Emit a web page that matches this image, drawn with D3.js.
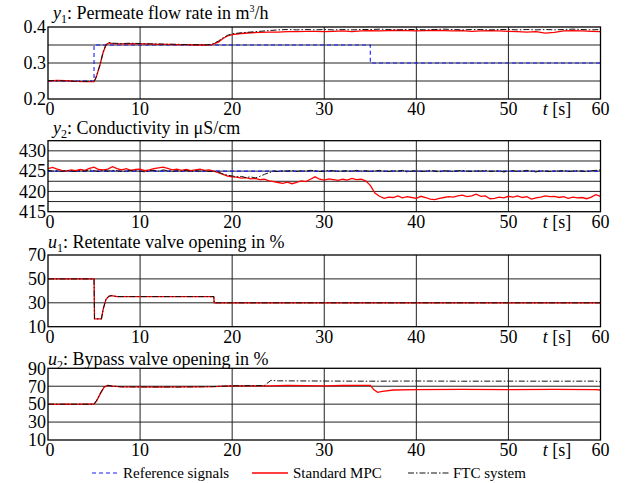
<!DOCTYPE html>
<html>
<head>
<meta charset="utf-8">
<script src="https://cdn.jsdelivr.net/npm/d3@7"></script>
<style>
  body { margin: 0; background: #fff; }
  svg { display: block; }
  svg text { font-family: "Liberation Serif", "Times New Roman", "DejaVu Serif", serif; }
</style>
</head>
<body>
<div id="chart"></div>
<script>
// ---- data ----
const xTicks = [0, 10, 20, 30, 40, 50, 60];

// y1: permeate flow rate, [t, value]
const y1Ref = [[0, 0.25], [5, 0.25], [5, 0.35], [35, 0.35], [35, 0.30], [60, 0.30]];
const y1Mpc = [[0, 0.250], [1, 0.252], [2, 0.251], [3, 0.249], [4, 0.248], [5, 0.248], [5.2, 0.258],
  [5.6, 0.290], [6.0, 0.330], [6.3, 0.350], [6.6, 0.356], [7, 0.354], [8, 0.353], [9, 0.354],
  [10, 0.353], [11, 0.353], [12, 0.352], [13, 0.352], [14, 0.351], [15, 0.351], [16, 0.350],
  [17, 0.350], [17.8, 0.351], [18.5, 0.358], [19, 0.368], [19.5, 0.375], [20, 0.379], [21, 0.382],
  [22, 0.384], [23, 0.385], [24, 0.386], [25, 0.386], [26, 0.387], [27, 0.387], [28, 0.388],
  [29, 0.388], [30, 0.387], [31, 0.388], [32, 0.389], [33, 0.387], [34, 0.389], [35, 0.390],
  [36, 0.389], [37, 0.390], [38, 0.391], [39, 0.390], [40, 0.389], [41, 0.390], [42, 0.391],
  [43, 0.390], [44, 0.389], [45, 0.390], [46, 0.388], [47, 0.389], [48, 0.390], [49, 0.389],
  [50, 0.388], [51, 0.387], [52, 0.386], [53, 0.387], [54, 0.383], [55, 0.385], [56, 0.389],
  [57, 0.390], [58, 0.389], [59, 0.388], [60, 0.387]];
const y1Ftc = [[0, 0.251], [1, 0.251], [2, 0.250], [3, 0.249], [4, 0.249], [5, 0.249], [5.2, 0.259],
  [5.6, 0.292], [6.0, 0.332], [6.3, 0.351], [6.6, 0.357], [7, 0.355], [8, 0.354], [9, 0.355],
  [10, 0.354], [11, 0.353], [12, 0.353], [13, 0.352], [14, 0.352], [15, 0.351], [16, 0.351],
  [17, 0.350], [17.8, 0.352], [18.5, 0.361], [19, 0.370], [19.5, 0.377], [20, 0.381], [21, 0.384],
  [22, 0.386], [23, 0.388], [24, 0.390], [25, 0.392], [26, 0.393], [27, 0.392], [28, 0.393],
  [29, 0.392], [30, 0.393], [31, 0.392], [32, 0.393], [33, 0.392], [34, 0.393], [35, 0.393],
  [36, 0.394], [37, 0.393], [38, 0.392], [39, 0.393], [40, 0.393], [41, 0.392], [42, 0.393],
  [43, 0.394], [44, 0.393], [45, 0.392], [46, 0.393], [47, 0.393], [48, 0.392], [49, 0.393],
  [50, 0.393], [51, 0.392], [52, 0.393], [53, 0.392], [54, 0.393], [55, 0.392], [56, 0.393],
  [57, 0.394], [58, 0.393], [59, 0.392], [60, 0.393]];

// y2: conductivity, sampled every 0.5 s from t = 0 to 60
const y2Times = d3.range(0, 60.5, 0.5);
const y2Ref = [[0, 425], [60, 425]];
const y2Mpc = [425.6, 425.9, 425.5, 425.2, 425.0, 425.3, 425.1, 425.4, 425.2, 425.7,
  426.0, 425.4, 425.3, 425.5, 426.1, 425.6, 425.3, 425.6, 425.2, 425.4,
  425.5, 425.1, 425.3, 425.6, 425.8, 426.0, 425.7, 425.3, 425.5, 425.2,
  425.4, 425.1, 425.3, 425.5, 425.2, 425.3, 425.0, 424.6, 424.2, 423.8,
  423.6, 423.5, 423.3, 423.4, 423.1, 423.2, 422.9, 423.0, 422.6, 422.4,
  422.2, 422.0, 422.3, 421.9, 422.2, 422.6, 422.4, 423.0, 423.6, 423.0,
  422.8, 423.1, 422.9, 422.7, 423.0, 422.8, 423.2, 422.9, 423.0, 422.6,
  421.5, 419.6, 418.8, 418.3, 418.6, 418.5, 418.9, 418.4, 418.7, 418.5,
  418.3, 418.8, 418.5, 418.1, 418.0, 418.3, 418.5, 418.7, 418.6, 418.9,
  419.1, 418.7, 418.9, 419.3, 418.8, 418.9, 418.2, 418.3, 418.6, 418.4,
  418.8, 418.6, 418.9, 418.5, 418.7, 418.1, 418.4, 418.6, 418.9, 418.7,
  418.8, 418.5, 418.7, 418.3, 418.6, 418.4, 418.5, 418.2, 418.6, 419.2,
  418.8];
const y2Ftc = [425.2, 425.0, 425.1, 424.9, 425.2, 425.0, 424.9, 425.1, 425.0, 425.3,
  425.1, 424.9, 425.2, 425.0, 425.2, 425.1, 424.9, 425.0, 425.2, 425.1,
  425.0, 424.8, 425.1, 425.2, 425.0, 425.3, 425.1, 424.9, 425.1, 425.0,
  425.2, 424.9, 425.1, 425.0, 425.1, 424.9, 425.0, 424.8, 424.3, 424.0,
  423.8, 423.6, 423.7, 423.4, 423.6, 423.3, 423.7, 424.2, 424.6, 425.0,
  424.9, 425.1, 425.0, 425.2, 424.9, 425.1, 425.0, 425.2, 425.1, 424.9,
  425.0, 425.2, 425.1, 424.9, 425.0, 425.1, 424.9, 425.2, 425.0, 425.1,
  424.9, 425.0, 425.2, 425.0, 424.9, 425.1, 425.0, 425.2, 424.8, 425.0,
  425.1, 424.9, 425.0, 425.2, 425.0, 424.8, 425.1, 425.0, 424.9, 425.1,
  425.2, 425.0, 424.9, 425.1, 425.0, 425.2, 424.9, 425.0, 425.1, 424.8,
  425.0, 425.1, 424.9, 425.0, 425.2, 425.0, 424.8, 425.1, 425.0, 424.9,
  425.1, 425.0, 425.2, 424.9, 425.0, 425.1, 425.0, 424.9, 425.1, 425.2,
  425.3];

// u1: retentate valve opening
const u1Mpc = [[0, 50], [5, 50], [5.05, 16.5], [5.8, 16.5], [6.0, 25], [6.3, 33], [6.6, 35.5],
  [6.9, 36], [7.5, 35.2], [18, 35.2], [18.05, 30], [60, 30]];
const u1Ftc = [[0, 50], [5, 50], [5.05, 16.5], [5.8, 16.5], [6.0, 25], [6.3, 33], [6.6, 35.5],
  [6.9, 36], [7.5, 35.2], [18, 35.2], [18.05, 30], [60, 30]];

// u2: bypass valve opening
const u2Mpc = [[0, 50], [1, 49.8], [2, 50], [3, 49.7], [4, 50], [5, 50], [5.3, 54], [5.7, 62],
  [6.1, 69], [6.5, 71], [7, 70], [8, 69.2], [10, 69.3], [12, 69], [14, 69.2], [16, 69.3],
  [18, 69.5], [20, 70.3], [22, 70.5], [24, 70.5], [26, 71], [28, 70.6], [30, 70.5], [32, 70.8],
  [34, 71], [35, 71], [35.4, 66], [35.8, 63.2], [36.3, 64.2], [37.5, 65.8], [40, 66.2],
  [45, 66.5], [50, 66.3], [55, 66.5], [59.5, 66.3], [60, 65.8]];
const u2Ftc = [[0, 50], [1, 50], [2, 49.8], [3, 50], [4, 49.9], [5, 50], [5.3, 54.5], [5.7, 62.5],
  [6.1, 69.5], [6.5, 71], [7, 70], [8, 69.4], [10, 69.2], [12, 69.3], [14, 69.1], [16, 69.4],
  [18, 69.6], [20, 70.5], [22, 70.6], [23.5, 70.8], [24.2, 76.5], [25, 76], [30, 75.8],
  [35, 75.6], [40, 75.8], [45, 75.6], [50, 75.7], [55, 75.6], [59.5, 75.7], [60, 74.8]];

// ---- layout ----
const width = 625, height = 483;
const x = d3.scaleLinear().domain([0, 60]).range([48, 600.5]);

const panels = [
  { top: 27, bottom: 99, domain: [0.2, 0.4], grid: [0.25, 0.3, 0.35], labels: [0.2, 0.3, 0.4],
    fmt: d3.format('.1f'), sym: 'y', sub: '1', title: ': Permeate flow rate in m', sup: '3', tail: '/h',
    titleX: 53, titleY: 19,
    series: { ref: y1Ref, mpc: y1Mpc, ftc: y1Ftc } },
  { top: 140.7, bottom: 211.7, domain: [415, 432.5], grid: [417.5, 420, 422.5, 425, 427.5, 430],
    labels: [415, 420, 425, 430], fmt: d3.format('d'), sym: 'y', sub: '2',
    title: ': Conductivity in \u03bcS/cm', titleX: 53, titleY: 134,
    series: { ref: y2Ref, mpc: y2Times.map((t, i) => [t, y2Mpc[i]]), ftc: y2Times.map((t, i) => [t, y2Ftc[i]]) } },
  { top: 255, bottom: 326.7, domain: [10, 70], grid: [30, 50], labels: [10, 30, 50, 70],
    fmt: d3.format('d'), sym: 'u', sub: '1', title: ': Retentate valve opening in %',
    titleX: 48, titleY: 248, series: { mpc: u1Mpc, ftc: u1Ftc } },
  { top: 368.3, bottom: 440, domain: [10, 90], grid: [30, 50, 70], labels: [10, 30, 50, 70, 90],
    fmt: d3.format('d'), sym: 'u', sub: '2', title: ': Bypass valve opening in %',
    titleX: 48, titleY: 365, series: { mpc: u2Mpc, ftc: u2Ftc } }
];

const styles = {
  ref: { stroke: '#1a1aff', width: 1.1, dash: '4,3' },
  mpc: { stroke: '#ff0000', width: 1.3, dash: null },
  ftc: { stroke: '#111', width: 1, dash: '6,2,1.5,2' }
};

const serif = '"Liberation Serif", "Times New Roman", "DejaVu Serif", serif';

const svg = d3.select('#chart').append('svg')
  .attr('width', width)
  .attr('height', height)
  .attr('font-family', serif);

panels.forEach(p => {
  const y = d3.scaleLinear().domain(p.domain).range([p.bottom, p.top]);
  const g = svg.append('g');

  // grid
  g.selectAll('.hgrid').data(p.grid).join('line')
    .attr('x1', x(0)).attr('x2', x(60))
    .attr('y1', d => y(d)).attr('y2', d => y(d))
    .attr('stroke', '#222').attr('stroke-width', 1);
  g.selectAll('.vgrid').data(xTicks.slice(1, -1)).join('line')
    .attr('x1', d => x(d)).attr('x2', d => x(d))
    .attr('y1', p.top).attr('y2', p.bottom)
    .attr('stroke', '#222').attr('stroke-width', 1);

  // lines
  const line = d3.line().x(d => x(d[0])).y(d => y(d[1]));
  ['ref', 'mpc', 'ftc'].forEach(k => {
    if (!p.series[k]) return;
    g.append('path')
      .datum(p.series[k])
      .attr('fill', 'none')
      .attr('stroke', styles[k].stroke)
      .attr('stroke-width', styles[k].width)
      .attr('stroke-dasharray', styles[k].dash)
      .attr('d', line);
  });

  // frame
  g.append('rect')
    .attr('x', x(0)).attr('y', p.top)
    .attr('width', x(60) - x(0)).attr('height', p.bottom - p.top)
    .attr('fill', 'none').attr('stroke', '#000').attr('stroke-width', 1.3);

  // y labels
  g.selectAll('.ylab').data(p.labels).join('text')
    .attr('x', 46).attr('y', d => y(d)).attr('dy', '0.35em')
    .attr('text-anchor', 'end').attr('font-size', 18)
    .text(p.fmt);

  // x labels
  g.selectAll('.xlab').data(xTicks).join('text')
    .attr('x', d => x(d) + (d === 0 ? 2 : 0)).attr('y', p.bottom + 16)
    .attr('text-anchor', 'middle').attr('font-size', 18)
    .text(d => d);
  const tl = g.append('text')
    .attr('x', 557).attr('y', p.bottom + 16)
    .attr('text-anchor', 'middle').attr('font-size', 18);
  tl.append('tspan').attr('font-style', 'italic').text('t');
  tl.append('tspan').text(' [s]');

  // title
  const tt = g.append('text')
    .attr('x', p.titleX).attr('y', p.titleY).attr('font-size', 18);
  tt.append('tspan').attr('font-style', 'italic').text(p.sym);
  tt.append('tspan').attr('font-size', 12).attr('dy', 4).text(p.sub);
  tt.append('tspan').attr('dy', -4).text(p.title);
  if (p.sup) {
    tt.append('tspan').attr('font-size', 10).attr('dy', -7).text(p.sup);
    tt.append('tspan').attr('dy', 7).text(p.tail);
  }
});

// legend
const legend = [
  { key: 'ref', label: 'Reference signals', x1: 92, x2: 119, tx: 123 },
  { key: 'mpc', label: 'Standard MPC', x1: 252, x2: 288, tx: 293 },
  { key: 'ftc', label: 'FTC system', x1: 408, x2: 450, tx: 453 }
];
const lg = svg.append('g');
legend.forEach(l => {
  lg.append('line')
    .attr('x1', l.x1).attr('x2', l.x2).attr('y1', 473).attr('y2', 473)
    .attr('stroke', styles[l.key].stroke)
    .attr('stroke-width', styles[l.key].width)
    .attr('stroke-dasharray', styles[l.key].dash);
  lg.append('text')
    .attr('x', l.tx).attr('y', 477.5)
    .attr('font-size', 15)
    .text(l.label);
});
</script>
</body>
</html>
